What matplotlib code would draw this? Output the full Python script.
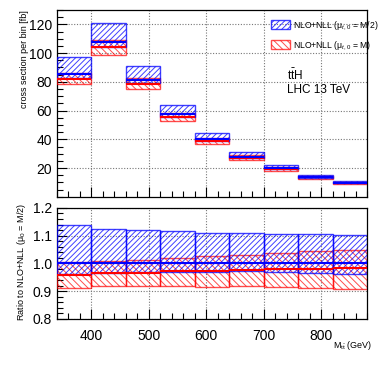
import matplotlib
matplotlib.use("Agg")
import matplotlib.pyplot as plt
from matplotlib.patches import Patch
from matplotlib.ticker import MultipleLocator
import numpy as np

plt.rcParams['font.family'] = ['Liberation Sans', 'DejaVu Sans']
plt.rcParams['mathtext.fontset'] = 'custom'
plt.rcParams['mathtext.rm'] = 'Liberation Sans'
plt.rcParams['mathtext.it'] = 'Liberation Sans:italic'
plt.rcParams['hatch.linewidth'] = 0.7

# bins in M_tt (GeV)
bin_edges = [340, 400, 460, 520, 580, 640, 700, 760, 820, 880]
# central cross section per bin [fb], mu_0 = M/2
xsec_half = [85.8, 107.8, 81.5, 57.5, 40.1, 27.9, 19.8, 13.9, 9.8]
# scale bands as ratio to the M/2 central value
blue_up = [1.137, 1.125, 1.121, 1.116, 1.110, 1.108, 1.106, 1.105, 1.101]
blue_dn = [0.962, 0.966, 0.968, 0.970, 0.970, 0.971, 0.970, 0.966, 0.962]
red_c = [0.958, 0.966, 0.967, 0.972, 0.974, 0.975, 0.979, 0.981, 0.983]
red_up = [1.005, 1.010, 1.014, 1.020, 1.026, 1.032, 1.038, 1.044, 1.047]
red_dn = [0.912, 0.918, 0.918, 0.920, 0.915, 0.920, 0.914, 0.913, 0.908]

BLUE = (0.0, 0.0, 1.0, 0.75)
RED = (1.0, 0.0, 0.0, 0.7)

edges = np.array(bin_edges, dtype=float)
left = edges[:-1]
width = np.diff(edges)
xs = np.array(xsec_half)
bu, bd = np.array(blue_up), np.array(blue_dn)
rc, ru, rd = np.array(red_c), np.array(red_up), np.array(red_dn)

fig = plt.figure(figsize=(3.82, 3.70), dpi=100)
ax1 = fig.add_axes([0.149, 0.468, 0.812, 0.505])
ax2 = fig.add_axes([0.149, 0.138, 0.812, 0.300])


def draw_bands(ax, scale):
    # red band first, blue on top
    ax.bar(left, (ru - rd) * scale, bottom=rd * scale, width=width, align='edge',
           fill=False, hatch='\\\\\\\\\\', edgecolor=RED, linewidth=1.0, zorder=3)
    ax.bar(left, (bu - bd) * scale, bottom=bd * scale, width=width, align='edge',
           fill=False, hatch='//////', edgecolor=BLUE, linewidth=1.0, zorder=4)
    ax.hlines(rc * scale, left, left + width, color='red', lw=1.5, zorder=5)
    ax.hlines(np.ones_like(xs) * scale, left, left + width, color='blue', lw=1.5, zorder=6)


draw_bands(ax1, xs)
draw_bands(ax2, 1.0)

for ax in (ax1, ax2):
    ax.set_xlim(340, 880)
    ax.xaxis.set_major_locator(MultipleLocator(100))
    ax.xaxis.set_minor_locator(MultipleLocator(20))
    ax.grid(True, which='major', color='#777777', linestyle=(0, (1, 1.5)), linewidth=0.8)
    ax.set_axisbelow(True)
    ax.tick_params(which='both', direction='in', top=False, right=False,
                   labelsize=10, width=0.8)
    ax.tick_params(which='major', length=7)
    ax.tick_params(which='minor', length=4)
    ax.tick_params(axis='x', pad=7)
    for s in ax.spines.values():
        s.set_linewidth(0.9)

ax1.set_ylim(0, 130)
ax1.set_yticks([20, 40, 60, 80, 100, 120])
ax1.yaxis.set_minor_locator(MultipleLocator(5))
ax1.tick_params(labelbottom=False)

ax2.set_ylim(0.8, 1.2)
ax2.set_yticks([0.8, 0.9, 1.0, 1.1, 1.2])
ax2.set_yticklabels(['0.8', '0.9', '1.0', '1.1', '1.2'])
ax2.yaxis.set_minor_locator(MultipleLocator(0.02))

fig.text(25 / 382, 1 - 10 / 370, 'cross section per bin [fb]', rotation=90,
         ha='center', va='top', fontsize=6.5)
fig.text(22 / 382, 1 - 203 / 370, 'Ratio to NLO+NLL (μ$_0$ = M/2)', rotation=90,
         ha='center', va='top', fontsize=6.5)
fig.text(372 / 382, 1 - 346 / 370, r'M$_{\mathrm{t\bar{t}}}$ (GeV)',
         ha='right', va='center', fontsize=6.5)

ax1.text(0.742, 0.625, r'$\mathrm{t\bar{t}H}$', transform=ax1.transAxes, fontsize=8.5)
ax1.text(0.742, 0.555, 'LHC 13 TeV', transform=ax1.transAxes, fontsize=8.5)

handles = [Patch(facecolor='none', edgecolor=BLUE, hatch='//////', label='NLO+NLL (μ$_{t,0}$ = M/2)'),
           Patch(facecolor='none', edgecolor=RED, hatch='\\\\\\\\\\', label='NLO+NLL (μ$_{t,0}$ = M)')]
ax1.legend(handles=handles, loc='upper left', bbox_to_anchor=(0.68, 0.97), frameon=False,
           fontsize=6.2, handlelength=2.2, handleheight=1.2, handletextpad=0.3,
           labelspacing=0.9, borderaxespad=0)

fig.savefig('out.png', dpi=100)
